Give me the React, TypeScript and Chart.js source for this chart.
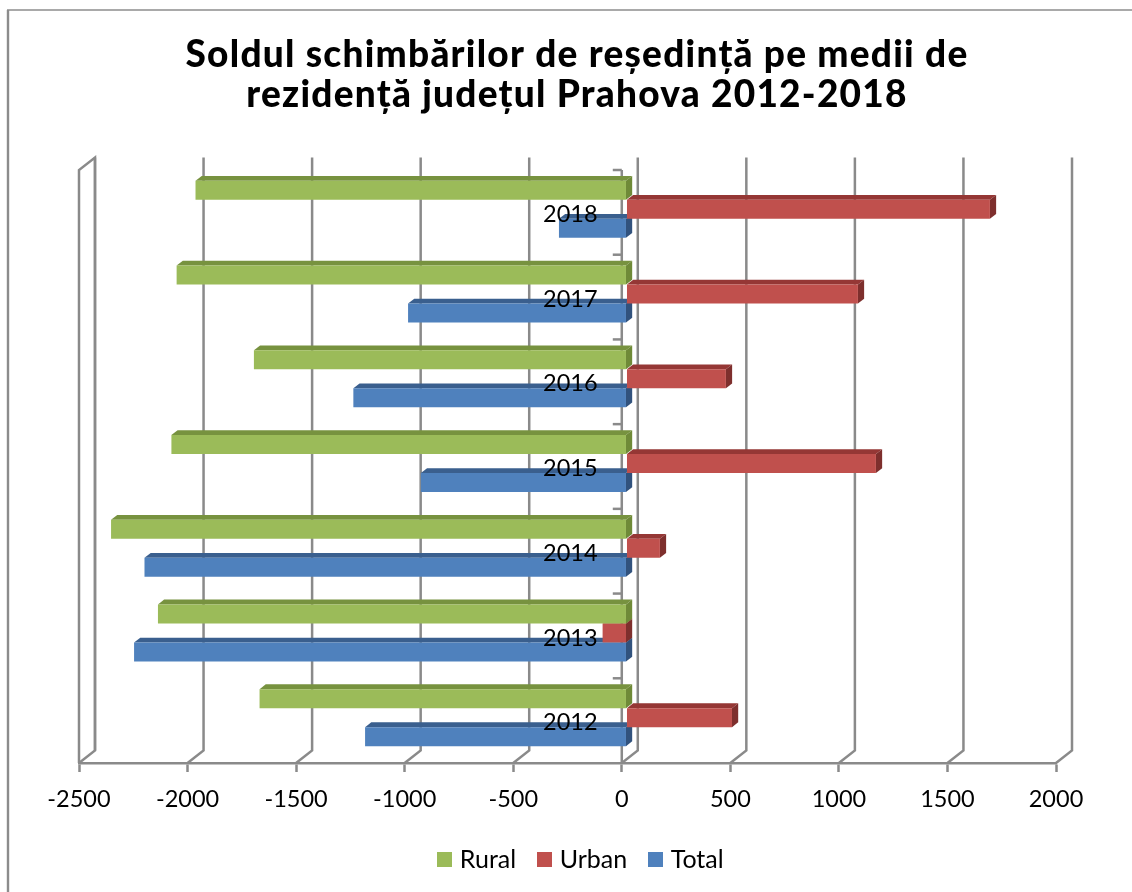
import React, { useEffect, useRef } from "react";
import { Chart, registerables } from "chart.js";

Chart.register(...registerables);

const titleLines = ["Soldul schimbărilor de reședință pe medii de", "rezidență județul Prahova 2012-2018"];
const years = ["2018", "2017", "2016", "2015", "2014", "2013", "2012"];
const rural = [-1985, -2072, -1716, -2096, -2374, -2158, -1690];
const urban = [1674, 1066, 458, 1149, 154, -110, 486];
const total = [-311, -1006, -1258, -947, -2220, -2268, -1204];

const GREY = "#8a8a8a";
const FRONT = { x: 4.7, y: -3.0 };
const DEPTH = { x: 6.2, y: -4.8 };
const WALL = { x: 16, y: -12.5 };
const shades = [
  { front: "#9BBB59", top: "#77923F", side: "#6F8A38" },
  { front: "#C0504D", top: "#953735", side: "#7E2F2D" },
  { front: "#4F81BD", top: "#3A5F8E", side: "#31527D" },
];

function swatch(color: string) {
  const c = document.createElement("canvas");
  c.width = 15;
  c.height = 15;
  const g = c.getContext("2d")!;
  g.fillStyle = color;
  g.fillRect(0, 0, 15, 15);
  return c;
}

const line = (ctx: CanvasRenderingContext2D, pts: number[][], w = 2.5, color = GREY) => {
  ctx.beginPath();
  ctx.strokeStyle = color;
  ctx.lineWidth = w;
  ctx.lineJoin = "miter";
  pts.forEach((p, i) => (i ? ctx.lineTo(p[0], p[1]) : ctx.moveTo(p[0], p[1])));
  ctx.stroke();
};

const frame3d = {
  id: "frame3d",
  afterLayout(chart: any) {
    const t = chart.titleBlock;
    t.left += 9.5;
    t.right += 9.5;
    const draw = t.draw;
    t.draw = function (...a: any[]) {
      (chart.ctx as any).letterSpacing = "1.25px";
      draw.apply(this, a);
      (chart.ctx as any).letterSpacing = "0px";
    };
    const l = chart.legend;
    l.left += 15.5;
    l.right += 15.5;
    l.top -= 10;
    l.bottom -= 10;
  },
  beforeDraw(chart: any) {
    const { ctx } = chart;
    ctx.save();
    ctx.fillStyle = "#fff";
    ctx.fillRect(0, 0, chart.width, chart.height);
    line(ctx, [[8, 892], [8, 10]], 2.4, "#8c8c8c");
    line(ctx, [[7, 10], [1132, 10]], 1.6, "#8c8c8c");
    ctx.restore();
  },
  beforeDatasetsDraw(chart: any) {
    const { ctx, chartArea: a, scales } = chart;
    ctx.save();
    // side wall
    line(ctx, [[a.left, a.bottom], [a.left, a.top], [a.left + WALL.x, a.top + WALL.y], [a.left + WALL.x, a.bottom + WALL.y]]);
    // back wall grid, one line for each value tick
    scales.x.ticks.forEach((tk: any) => {
      const x = scales.x.getPixelForValue(tk.value);
      line(ctx, [[x, a.bottom], [x + WALL.x, a.bottom + WALL.y], [x + WALL.x, a.top + WALL.y]]);
    });
    // category axis at value zero with tick marks between the categories
    const x0 = scales.x.getPixelForValue(0);
    line(ctx, [[x0, a.top], [x0, a.bottom]]);
    const band = a.height / years.length;
    for (let i = 0; i < years.length; i++) {
      const yy = a.top + band * i;
      line(ctx, [[x0 - 9, yy], [x0, yy]]);
    }
    ctx.restore();
  },
  beforeDatasetDraw(chart: any, args: any) {
    const { ctx } = chart;
    const s = shades[args.index];
    ctx.save();
    ctx.translate(FRONT.x, FRONT.y);
    args.meta.data.forEach((bar: any) => {
      const { x, y, height, base } = bar.getProps(["x", "y", "height", "base"], true);
      const l = Math.min(x, base);
      const r = Math.max(x, base);
      const top = y - height / 2;
      const bot = y + height / 2;
      ctx.fillStyle = s.top;
      ctx.beginPath();
      ctx.moveTo(l, top);
      ctx.lineTo(l + DEPTH.x, top + DEPTH.y);
      ctx.lineTo(r + DEPTH.x, top + DEPTH.y);
      ctx.lineTo(r, top);
      ctx.closePath();
      ctx.fill();
      ctx.fillStyle = s.side;
      ctx.beginPath();
      ctx.moveTo(r, top);
      ctx.lineTo(r + DEPTH.x, top + DEPTH.y);
      ctx.lineTo(r + DEPTH.x, bot + DEPTH.y);
      ctx.lineTo(r, bot);
      ctx.closePath();
      ctx.fill();
    });
  },
  afterDatasetDraw(chart: any) {
    chart.ctx.restore();
  },
};

export default function App() {
  const ref = useRef<HTMLCanvasElement>(null);
  useEffect(() => {
    const font = "Lato, Carlito, sans-serif";
    const chart = new Chart(ref.current!, {
      type: "bar",
      data: {
        labels: years,
        datasets: [
          { label: "Rural", data: rural, backgroundColor: shades[0].front },
          { label: "Urban", data: urban, backgroundColor: shades[1].front },
          { label: "Total", data: total, backgroundColor: shades[2].front },
        ].map((d) => ({ ...d, categoryPercentage: 0.673, barPercentage: 1, clip: false as any })),
      },
      options: {
        indexAxis: "y",
        responsive: false,
        animation: false,
        layout: { padding: { left: 79, right: 76, top: 0, bottom: 0 } },
        scales: {
          x: {
            type: "linear",
            min: -2500,
            max: 2000,
            ticks: {
              stepSize: 500,
              color: "#000",
              font: { family: font, size: 23.5 },
              padding: 13,
              maxRotation: 0,
              autoSkip: false,
              callback: (v: any) => String(v),
            },
            grid: { drawOnChartArea: false, drawTicks: true, tickLength: 9, tickColor: GREY, tickWidth: 2.5, color: GREY },
            border: { color: GREY, width: 2.5 },
            afterFit: (s: any) => {
              s.height = 68;
            },
          },
          y: {
            type: "category",
            grid: { display: false },
            border: { display: false },
            ticks: { color: "#000", font: { family: font, size: 23.5 }, mirror: true, padding: 464, labelOffset: 2, z: 1, autoSkip: false },
            afterFit: (s: any) => {
              s.width = 0;
              s.paddingTop = 0;
              s.paddingBottom = 0;
            },
          },
        },
        plugins: {
          title: {
            display: true,
            text: titleLines,
            color: "#000",
            font: { family: "Lato, sans-serif", size: 37, weight: "900", lineHeight: "40px" },
            padding: { top: 35, bottom: 55 },
          },
          legend: {
            position: "bottom",
            labels: {
              color: "#000",
              font: { family: font, size: 25, lineHeight: "24px" },
              usePointStyle: true,
              pointStyleWidth: 5,
              boxHeight: 15,
              padding: 26,
              generateLabels: (c: any) =>
                Chart.defaults.plugins.legend.labels.generateLabels(c).map((it: any, i: number) => ({
                  ...it,
                  pointStyle: swatch(shades[i].front),
                })),
            },
          },
          tooltip: { enabled: false },
        },
      } as any,
      plugins: [frame3d],
    });
    return () => chart.destroy();
  }, []);
  return (
    <div style={{ position: "absolute", left: 0, top: 0, width: 1132, height: 892 }}>
      <canvas ref={ref} width={1132} height={892} style={{ display: "block" }} />
    </div>
  );
}
